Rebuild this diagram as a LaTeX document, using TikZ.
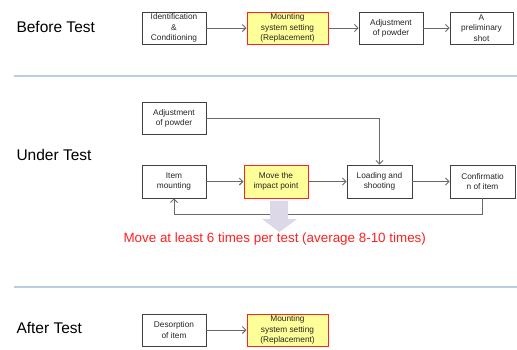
\documentclass[tikz,border=0pt]{standalone}
\usepackage{fontspec}
\setmainfont{Liberation Sans}
\usetikzlibrary{arrows.meta}
\definecolor{boxline}{HTML}{404040}
\definecolor{arrline}{HTML}{6A6A6A}
\definecolor{hiyel}{HTML}{FFFF99}
\definecolor{hired}{HTML}{FF2020}
\definecolor{sepblue}{HTML}{B8CCE4}
\definecolor{lav}{HTML}{DCD8E8}
\tikzset{
  box/.style={draw=boxline, line width=0.8pt, fill=white, inner sep=0pt, align=center,
    font=\fontsize{8.3}{10.3}\selectfont, text=black!85},
  hibox/.style={box, fill=hiyel, draw=hired, line width=1pt},
  flow/.style={draw=arrline, line width=0.9pt, -{Straight Barb[length=3.5pt,width=7pt]}},
  sec/.style={anchor=west, font=\fontsize{15.5}{18}\selectfont, text=black},
  sep/.style={draw=sepblue, line width=1.2pt}
}
\begin{document}
\begin{tikzpicture}[x=1pt,y=-1pt]
\useasboundingbox (0,0) rectangle (517,349);
% Before Test
\node[sec] (lb) at (13,27) {Before Test};
\node[box, minimum width=64pt, minimum height=32pt] (b1) at (174,28) {Identification\\\&\\Conditioning};
\node[hibox, minimum width=81pt, minimum height=32pt] (b2) at (287.5,28) {Mounting\\system setting\\(Replacement)};
\node[box, minimum width=64pt, minimum height=32pt] (b3) at (391,28) {Adjustment\\of powder};
\node[box, minimum width=63pt, minimum height=32pt] (b4) at (481.5,28) {A\\preliminary\\shot};
\draw[flow] (b1) -- (b2);
\draw[flow] (b2) -- (b3);
\draw[flow] (b3) -- (b4);
\coordinate (s1a) at (14,76);
\coordinate (s1b) at (517,76);
\draw[sep] (s1a) -- (s1b);
% Under Test
\node[sec] (lu) at (13,155) {Under Test};
\node[box, minimum width=64pt, minimum height=32pt] (u0) at (174,118) {Adjustment\\of powder};
\node[box, minimum width=64pt, minimum height=33pt] (u1) at (174,181.5) {Item\\mounting};
\node[hibox, minimum width=64pt, minimum height=33pt] (u2) at (276,181.5) {Move the\\impact point};
\node[box, minimum width=65pt, minimum height=33pt] (u3) at (379.5,181.5) {Loading and\\shooting};
\node[box, minimum width=65pt, minimum height=33pt] (u4) at (482.5,181.5) {Confirmatio\\n of item};
\draw[flow] (u1) -- (u2);
\draw[flow] (u2) -- (u3);
\draw[flow] (u3) -- (u4);
\draw[flow] (u0.east) -| (u3.north);
\draw[flow] (u4.south) |- (174,214) -- (u1.south);
% big down arrow
\fill[lav] (270,201) -- (288,201) -- (288,219) -- (297,219) -- (279.5,232) -- (262,219) -- (270,219) -- cycle;
\node[anchor=west, text=hired, font=\fontsize{13.4}{16}\selectfont] (note) at (120,239.5) {Move at least 6 times per test (average 8-10 times)};
\coordinate (s2a) at (14,287);
\coordinate (s2b) at (517,287);
\draw[sep] (s2a) -- (s2b);
% After Test
\node[sec] (la) at (13,328) {After Test};
\node[box, minimum width=64pt, minimum height=32pt] (a1) at (174,330) {Desorption\\of item};
\node[hibox, minimum width=81pt, minimum height=32pt] (a2) at (287.5,330) {Mounting\\system setting\\(Replacement)};
\draw[flow] (a1) -- (a2);
\end{tikzpicture}
\end{document}
